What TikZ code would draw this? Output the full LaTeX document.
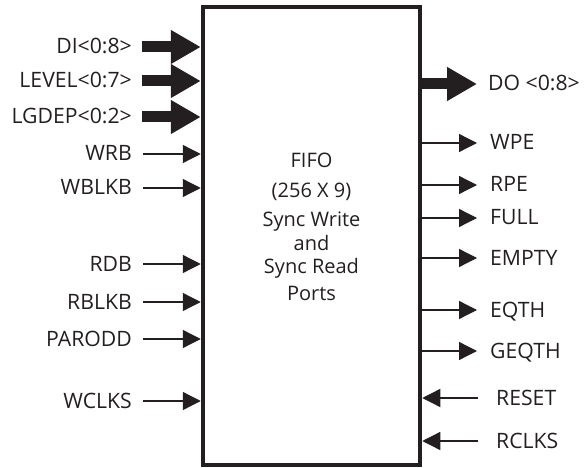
\documentclass[tikz,border=0pt]{standalone}
\usepackage{fontspec}
\setmainfont{Open Sans}
\usepackage{tikz}
\usetikzlibrary{arrows.meta}
\usepackage{xcolor}
\definecolor{ink}{HTML}{231F20}

\begin{document}
\begin{tikzpicture}[
    x=1pt, y=-1pt,
    pinLabel/.style={inner sep=0pt, text height=14pt, text depth=0pt, text=ink, font=\fontsize{21.2}{24}\selectfont},
    busArrow/.style={draw=ink, line width=11pt, -{Triangle[length=30pt,width=32pt]}},
    sigArrow/.style={draw=ink, line width=1.3pt, -{Triangle[length=18pt,width=18pt]}}
]
    \useasboundingbox (0,0) rectangle (584,468);

    \node[draw=ink, line width=4.5pt, minimum width=217pt, minimum height=458pt, inner sep=0pt] (fifo) at (311.5,236) {};

    \node[text=ink, align=center, anchor=north, inner sep=0pt, font=\fontsize{20}{23}\selectfont] (fifoText) at (311.5,153) {
        FIFO\\[7pt]
        (256 X 9)\\[6pt]
        Sync Write\\[1pt]
        and\\
        Sync Read\\[4pt]
        Ports
    };

    % inputs
    \node[pinLabel, anchor=east] (diBus) at (132,47) {DI<0:8>};
    \node[pinLabel, anchor=east] (levelBus) at (132,81) {LEVEL<0:7>};
    \node[pinLabel, anchor=east] (lgdepBus) at (132,117) {LGDEP<0:2>};
    \node[pinLabel, anchor=east] (wrb) at (132,154) {WRB};
    \node[pinLabel, anchor=east] (wblkb) at (132,188) {WBLKB};
    \node[pinLabel, anchor=east] (rdb) at (132,264) {RDB};
    \node[pinLabel, anchor=east] (rblkb) at (132,302) {RBLKB};
    \node[pinLabel, anchor=east] (parodd) at (132,339) {PARODD};
    \node[pinLabel, anchor=east] (wclks) at (132,401) {WCLKS};

    \draw[busArrow, shorten <=10pt] (diBus.east) -- (diBus.east -| fifo.west);
    \draw[busArrow, shorten <=10pt] (levelBus.east) -- (levelBus.east -| fifo.west);
    \draw[busArrow, shorten <=10pt] (lgdepBus.east) -- (lgdepBus.east -| fifo.west);
    \draw[sigArrow, shorten <=11pt] (wrb.east) -- (wrb.east -| fifo.west);
    \draw[sigArrow, shorten <=11pt] (wblkb.east) -- (wblkb.east -| fifo.west);
    \draw[sigArrow, shorten <=11pt] (rdb.east) -- (rdb.east -| fifo.west);
    \draw[sigArrow, shorten <=11pt] (rblkb.east) -- (rblkb.east -| fifo.west);
    \draw[sigArrow, shorten <=11pt] (parodd.east) -- (parodd.east -| fifo.west);
    \draw[sigArrow, shorten <=11pt] (wclks.east) -- (wclks.east -| fifo.west);

    % outputs
    \node[pinLabel, anchor=west] (doBus) at (488,84) {DO <0:8>};
    \node[pinLabel, anchor=west] (wpe) at (490,143) {WPE};
    \node[pinLabel, anchor=west] (rpe) at (490,185) {RPE};
    \node[pinLabel, anchor=west] (full) at (490,218) {FULL};
    \node[pinLabel, anchor=west] (empty) at (490,258) {EMPTY};
    \node[pinLabel, anchor=west] (eqth) at (490,310) {EQTH};
    \node[pinLabel, anchor=west] (geqth) at (490,351) {GEQTH};
    \node[pinLabel, anchor=west] (reset) at (496,398) {RESET};
    \node[pinLabel, anchor=west] (rclks) at (496,441) {RCLKS};

    \draw[busArrow, shorten >=11pt] (doBus.west -| fifo.east) -- (doBus.west);
    \draw[sigArrow, shorten >=13pt] (wpe.west -| fifo.east) -- (wpe.west);
    \draw[sigArrow, shorten >=13pt] (rpe.west -| fifo.east) -- (rpe.west);
    \draw[sigArrow, shorten >=13pt] (full.west -| fifo.east) -- (full.west);
    \draw[sigArrow, shorten >=13pt] (empty.west -| fifo.east) -- (empty.west);
    \draw[sigArrow, shorten >=13pt] (eqth.west -| fifo.east) -- (eqth.west);
    \draw[sigArrow, shorten >=13pt] (geqth.west -| fifo.east) -- (geqth.west);
    \draw[sigArrow, shorten <=18pt] (reset.west) -- (reset.west -| fifo.east);
    \draw[sigArrow, shorten <=18pt] (rclks.west) -- (rclks.west -| fifo.east);
\end{tikzpicture}
\end{document}
